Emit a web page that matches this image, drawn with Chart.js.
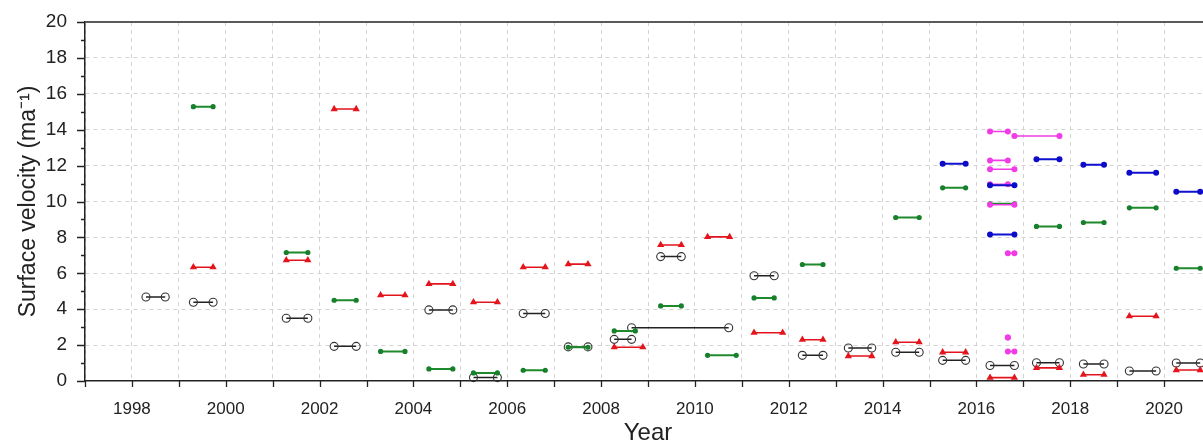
<!DOCTYPE html>
<html>
<head>
<meta charset="utf-8">
<script src="https://cdn.jsdelivr.net/npm/chart.js@4.4.0/dist/chart.umd.min.js"></script>
<style>
  html, body { margin: 0; padding: 0; background: #fff; overflow: hidden; }
  #wrap { width: 1212px; height: 448px; position: relative; }
</style>
</head>
<body>
<div id="wrap"><canvas id="velocityChart"></canvas></div>
<script>
// each entry: [start year, end year, velocity]
const blackSegs = [
  [1998.30, 1998.71, 4.68], [1999.31, 1999.73, 4.39], [2001.29, 2001.75, 3.50],
  [2002.31, 2002.78, 1.93], [2004.33, 2004.84, 3.96], [2005.28, 2005.79, 0.19],
  [2006.34, 2006.81, 3.76], [2007.30, 2007.72, 1.90], [2008.28, 2008.65, 2.32],
  [2008.65, 2010.72, 2.97], [2009.27, 2009.71, 6.93], [2011.26, 2011.69, 5.86],
  [2012.29, 2012.73, 1.43], [2013.27, 2013.77, 1.84], [2014.28, 2014.78, 1.60],
  [2015.28, 2015.77, 1.15], [2016.29, 2016.81, 0.86], [2017.28, 2017.77, 1.02],
  [2018.28, 2018.72, 0.95], [2019.26, 2019.83, 0.56], [2020.26, 2020.77, 1.00]
];
const greenSegs = [
  [1999.31, 1999.73, 15.28], [2001.29, 2001.75, 7.16], [2002.31, 2002.78, 4.50],
  [2003.30, 2003.82, 1.65], [2004.33, 2004.84, 0.67], [2005.28, 2005.79, 0.45],
  [2006.34, 2006.81, 0.60], [2007.30, 2007.72, 1.88], [2008.28, 2008.73, 2.79],
  [2009.27, 2009.71, 4.18], [2010.27, 2010.88, 1.43], [2011.26, 2011.69, 4.63],
  [2012.29, 2012.73, 6.49], [2014.28, 2014.78, 9.11], [2015.28, 2015.77, 10.76],
  [2016.29, 2016.81, 9.87], [2017.28, 2017.77, 8.61], [2018.28, 2018.72, 8.83],
  [2019.26, 2019.83, 9.65], [2020.26, 2020.77, 6.28]
];
const redSegs = [
  [1999.31, 1999.73, 6.34], [2001.29, 2001.75, 6.73], [2002.31, 2002.78, 15.15],
  [2003.30, 2003.82, 4.78], [2004.33, 2004.84, 5.41], [2005.28, 2005.79, 4.39],
  [2006.34, 2006.81, 6.34], [2007.30, 2007.72, 6.51], [2008.28, 2008.89, 1.88],
  [2009.27, 2009.71, 7.58], [2010.27, 2010.74, 8.03], [2011.26, 2011.87, 2.69],
  [2012.29, 2012.73, 2.30], [2013.27, 2013.77, 1.39], [2014.28, 2014.78, 2.16],
  [2015.28, 2015.77, 1.60], [2016.29, 2016.81, 0.19], [2017.28, 2017.77, 0.73],
  [2018.28, 2018.72, 0.35], [2019.26, 2019.83, 3.61], [2020.26, 2020.77, 0.61]
];
const blueSegs = [
  [2015.28, 2015.77, 12.10], [2016.29, 2016.81, 10.90], [2016.29, 2016.81, 8.16],
  [2017.28, 2017.77, 12.36], [2018.28, 2018.72, 12.05], [2019.26, 2019.83, 11.60],
  [2020.26, 2020.77, 10.54]
];
const magentaSegs = [
  [2016.29, 2016.67, 13.90], [2016.81, 2017.77, 13.65], [2016.29, 2016.67, 12.29],
  [2016.29, 2016.81, 11.80], [2016.29, 2016.67, 10.96], [2016.29, 2016.81, 9.82],
  [2016.67, 2016.81, 7.12], [2016.67, 2016.67, 2.42], [2016.67, 2016.81, 1.64]
];

const xMin = 1997, xMax = 2021;
const yMin = 0, yMax = 20;

function toPoints(segs) {
  const pts = [];
  segs.forEach(s => {
    pts.push({ x: s[0], y: s[2] }, { x: s[1], y: s[2] }, { x: s[1], y: null });
  });
  return pts;
}

const FONT = "'Liberation Sans', Arial, sans-serif";

// tick marks and the top frame line
const frame = {
  id: 'frame',
  afterDraw(chart) {
    const { ctx, chartArea: a, scales: { x, y } } = chart;
    ctx.save();
    ctx.strokeStyle = '#222';
    ctx.lineWidth = 1.3;
    ctx.beginPath();
    x.ticks.forEach(t => {
      const px = Math.round(x.getPixelForValue(t.value)) + 0.5;
      ctx.moveTo(px, a.bottom);
      ctx.lineTo(px, a.bottom + 6);
    });
    y.ticks.forEach(t => {
      const py = Math.round(y.getPixelForValue(t.value)) + 0.5;
      const len = t.value % 2 === 0 ? 8 : 4;
      ctx.moveTo(a.left - len, py);
      ctx.lineTo(a.left, py);
    });
    ctx.stroke();
    ctx.strokeStyle = '#5a5a5a';
    ctx.lineWidth = 2;
    ctx.beginPath();
    ctx.moveTo(a.left, a.top);
    ctx.lineTo(a.right, a.top);
    ctx.stroke();
    ctx.restore();
  }
};

const ctx = document.getElementById('velocityChart').getContext('2d');
new Chart(ctx, {
  type: 'scatter',
  data: {
    datasets: [
      {
        label: 'black', data: toPoints(blackSegs), showLine: true, order: 5,
        borderColor: '#222', borderWidth: 1.5, pointStyle: 'circle', pointRadius: 4,
        pointBackgroundColor: 'rgba(255,255,255,0)', pointBorderColor: '#333', pointBorderWidth: 1.1
      },
      {
        label: 'green', data: toPoints(greenSegs), showLine: true, order: 4,
        borderColor: '#1f8a2c', borderWidth: 2, pointStyle: 'circle', pointRadius: 2.6,
        pointBackgroundColor: '#16802a', pointBorderColor: '#16802a', pointBorderWidth: 0
      },
      {
        label: 'red', data: toPoints(redSegs), showLine: true, order: 3,
        borderColor: '#e3141c', borderWidth: 1.6, pointStyle: 'triangle', pointRadius: 4.2,
        pointBackgroundColor: '#e3141c', pointBorderColor: '#e3141c', pointBorderWidth: 0
      },
      {
        label: 'magenta', data: toPoints(magentaSegs), showLine: true, order: 2,
        borderColor: '#f03be6', borderWidth: 1.6, pointStyle: 'circle', pointRadius: 3,
        pointBackgroundColor: '#f03be6', pointBorderColor: '#f03be6', pointBorderWidth: 0
      },
      {
        label: 'blue', data: toPoints(blueSegs), showLine: true, order: 1,
        borderColor: '#1010d0', borderWidth: 2, pointStyle: 'circle', pointRadius: 3,
        pointBackgroundColor: '#0c0cc8', pointBorderColor: '#0c0cc8', pointBorderWidth: 0
      }
    ]
  },
  options: {
    responsive: true,
    maintainAspectRatio: false,
    animation: false,
    spanGaps: false,
    clip: false,
    layout: { autoPadding: false, padding: { top: 22, right: 1, left: 0, bottom: 0 } },
    plugins: { legend: { display: false }, tooltip: { enabled: false } },
    scales: {
      x: {
        type: 'linear', min: xMin, max: xMax,
        afterFit: axis => { axis.height = 67; axis.paddingLeft = 0; axis.paddingRight = 0; },
        border: { color: '#222', width: 1.5, dash: [4, 4] },
        grid: { color: '#d2d2d2', lineWidth: 1, drawTicks: false },
        ticks: {
          stepSize: 1, autoSkip: false, maxRotation: 0, padding: 18,
          color: '#222', font: { family: FONT, size: 17 },
          callback: v => (v % 2 === 0 && v > xMin && v < xMax) ? String(v) : ''
        },
        title: {
          display: true, text: 'Year', color: '#222',
          font: { family: FONT, size: 24 }, padding: { top: 0, bottom: 0 }
        }
      },
      y: {
        type: 'linear', min: yMin, max: yMax,
        afterFit: axis => { axis.width = 85; axis.paddingTop = 0; axis.paddingBottom = 0; },
        border: { color: '#222', width: 1.5, dash: [4, 4] },
        grid: {
          drawTicks: false, lineWidth: 1,
          color: c => (c.tick && c.tick.value % 2 === 0 && c.tick.value > yMin && c.tick.value < yMax) ? '#d2d2d2' : 'rgba(0,0,0,0)'
        },
        ticks: {
          stepSize: 1, autoSkip: false, padding: 18,
          color: '#222', font: { family: FONT, size: 19 },
          callback: v => v % 2 === 0 ? String(v) : ''
        },
        title: {
          display: true, text: 'Surface velocity (ma⁻¹)', color: '#222',
          font: { family: FONT, size: 23 }, padding: { top: 15, bottom: 0 }
        }
      }
    }
  },
  plugins: [frame]
});
</script>
</body>
</html>
